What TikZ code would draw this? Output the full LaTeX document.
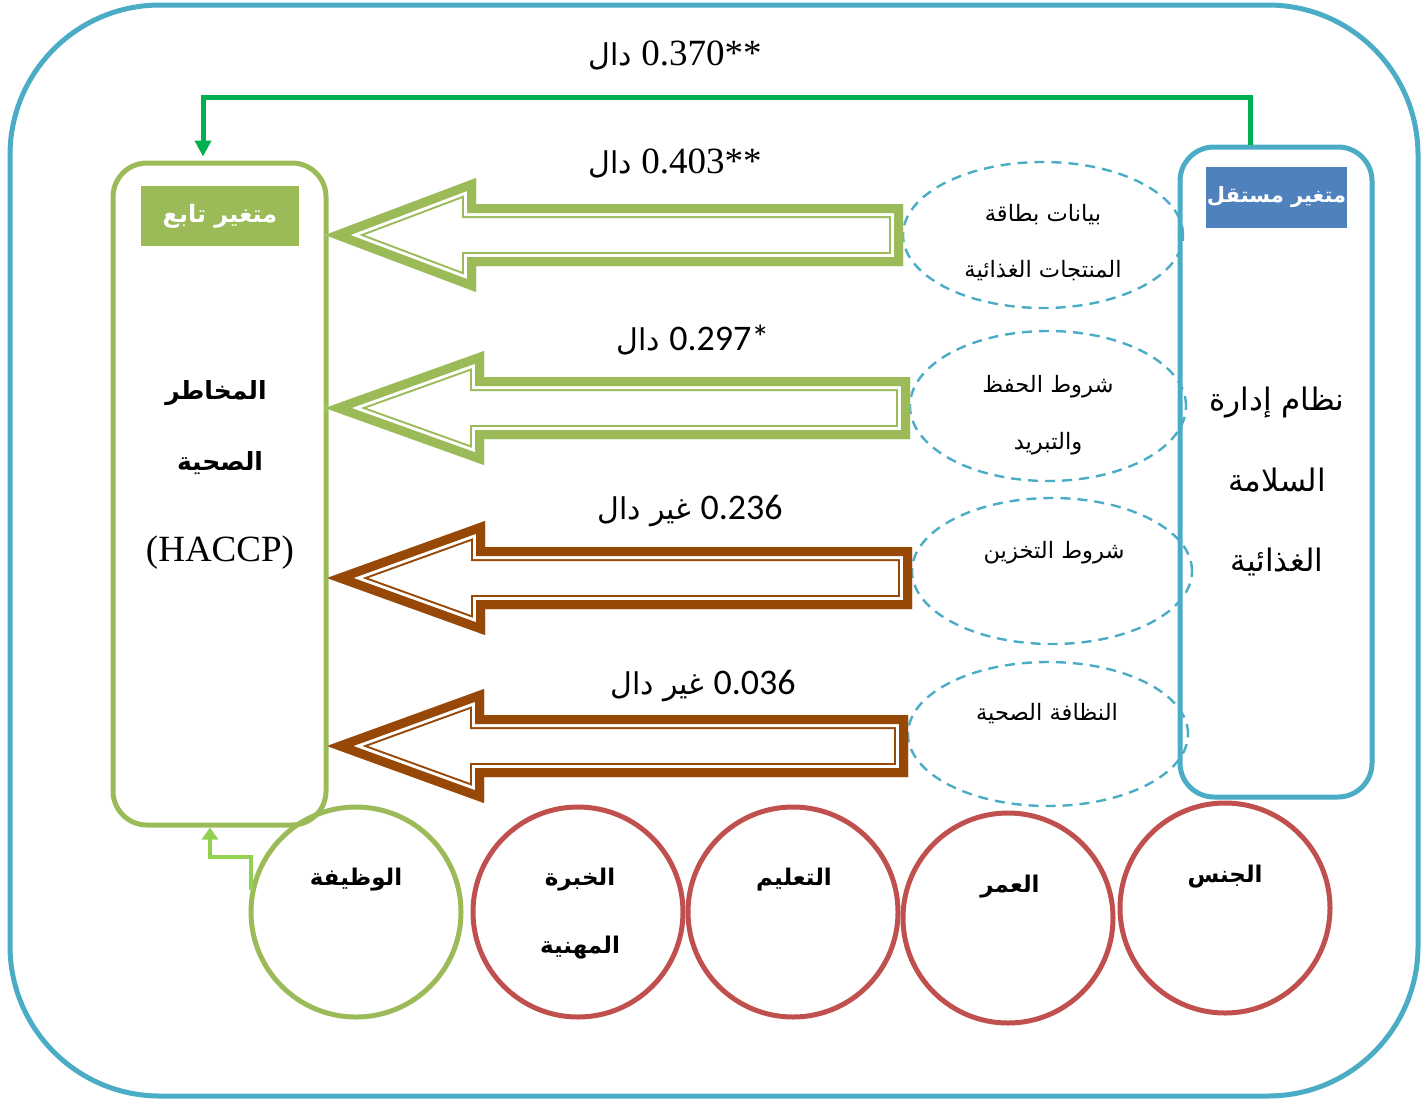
\documentclass[tikz,border=0pt]{standalone}
\usepackage{fontspec}
\setmainfont{Liberation Serif}
\newfontfamily\arfont[Script=Arabic]{DejaVu Sans}
\newfontfamily\calfont{Carlito}
\usetikzlibrary{shapes.geometric,arrows.meta}
\TeXXeTstate=1
\definecolor{cyanb}{HTML}{4BACC6}
\definecolor{greenb}{HTML}{9BBB59}
\definecolor{brownb}{HTML}{974706}
\definecolor{redb}{HTML}{C0504D}
\definecolor{blueb}{HTML}{4F81BD}
\definecolor{gline}{HTML}{00B050}
\definecolor{lgreen}{HTML}{92D050}
\newcommand\AR[1]{{\arfont\beginR #1\endR}}
\newcommand\ARB[1]{{\arfont\bfseries\beginR #1\endR}}
\newcommand\arrpath[4]{(#1,#2) -- (#3,#2-57) -- (#3,#2-31) -- (#4,#2-31) -- (#4,#2+31) -- (#3,#2+31) -- (#3,#2+57) -- cycle}
\newcommand\blkarrow[5]{%
  \begin{scope}
    \clip \arrpath{#2}{#3}{#4}{#5};
    \draw[#1, line width=14pt] \arrpath{#2}{#3}{#4}{#5};
    \draw[white, line width=12pt] \arrpath{#2}{#3}{#4}{#5};
    \draw[#1, line width=9pt] \arrpath{#2}{#3}{#4}{#5};
  \end{scope}}
\tikzset{
  bigbox/.style={draw, line width=2.5pt, rounded corners=17pt, rectangle},
  tagbox/.style={rectangle, inner sep=0pt, text=white, font=\fontsize{12}{14}\selectfont},
  ovalbox/.style={ellipse, draw=cyanb, dashed, dash pattern=on 5pt off 3.5pt, line width=1.2pt, minimum width=140pt, minimum height=73pt},
  circbox/.style={circle, draw=redb, line width=2.5pt, minimum size=105pt, inner sep=0pt},
  ovaltext/.style={font=\fontsize{11.3}{13}\selectfont, inner sep=0pt},
  circtext/.style={font=\fontsize{11.5}{14}\selectfont, inner sep=0pt},
  serlab/.style={font=\fontsize{18.5}{22}\selectfont, inner sep=0pt},
  sanlab/.style={font=\fontsize{18}{22}\selectfont, inner sep=0pt},
}
\begin{document}
\begin{tikzpicture}[x=0.5pt,y=-0.5pt]
\useasboundingbox (0,0) rectangle (1428,1099);
% outer frame
\draw[cyanb, line width=2.5pt, rounded corners=75pt] (10,5) rectangle (1418,1096);

% main boxes
\node[bigbox, draw=greenb, minimum width=106.5pt, minimum height=331pt] (dep) at (219.5,494) {};
\node[bigbox, draw=cyanb, minimum width=96pt, minimum height=325pt] (ind) at (1276,472) {};
\node[tagbox, fill=greenb, minimum width=79pt, minimum height=30pt] (deptag) at (220,216) {\ARB{متغير تابع}};
\node[tagbox, fill=blueb, minimum width=70.5pt, minimum height=30.5pt, font=\fontsize{10.5}{13}\selectfont] (indtag) at (1276.5,197.5) {\ARB{متغير مستقل}};

% left box text
\node[circtext, font=\fontsize{12.5}{16}\selectfont] (d1) at (216,393) {\ARB{المخاطر}};
\node[circtext, font=\fontsize{12.5}{16}\selectfont] (d2) at (220,463) {\ARB{الصحية}};
\node[serlab] (d3) at (220,553) {(HACCP)};

% right box text
\node[circtext, font=\fontsize{15.5}{18}\selectfont] (i1) at (1277,402) {\AR{نظام إدارة}};
\node[circtext, font=\fontsize{15.5}{18}\selectfont] (i2) at (1277,480) {\AR{السلامة}};
\node[circtext, font=\fontsize{15.5}{18}\selectfont] (i3) at (1277,562) {\AR{الغذائية}};

% ellipses
\node[ovalbox] (e1) at (1043,235) {};
\node[ovalbox, minimum width=138pt, minimum height=75pt] (e2) at (1048,406) {};
\node[ovalbox] (e3) at (1052,571) {};
\node[ovalbox, minimum height=72pt] (e4) at (1048,734) {};
\node[ovaltext] (e1a) at (1043,215) {\AR{بيانات بطاقة}};
\node[ovaltext] (e1b) at (1043,271) {\AR{المنتجات الغذائية}};
\node[ovaltext] (e2a) at (1048,387) {\AR{شروط الحفظ}};
\node[ovaltext] (e2b) at (1048,444) {\AR{والتبريد}};
\node[ovaltext] (e3a) at (1054,553) {\AR{شروط التخزين}};
\node[ovaltext] (e4a) at (1047,714) {\AR{النظافة الصحية}};

% block arrows
\blkarrow{greenb}{325}{235}{476}{903}
\blkarrow{greenb}{325}{408}{484}{910}
\blkarrow{brownb}{327}{578}{485}{912}
\blkarrow{brownb}{327}{746}{484}{908}

% labels
\node[serlab] (l1) at (675,55) {{\fontsize{15}{18}\selectfont\AR{دال}}\ 0.370**};
\node[serlab] (l2) at (675,163) {{\fontsize{15}{18}\selectfont\AR{دال}}\ 0.403**};
\node[sanlab] (l3) at (693,340) {{\fontsize{15}{18}\selectfont\AR{دال}}\ {\calfont 0.297*}};
\node[sanlab] (l4) at (690,511) {{\fontsize{15}{18}\selectfont\AR{غير دال}}\ {\calfont 0.236}};
\node[sanlab] (l5) at (703,686) {{\fontsize{15}{18}\selectfont\AR{غير دال}}\ {\calfont 0.036}};

% circles
\node[circbox, draw=greenb] (job) at (356,912) {};
\node[circbox] (exp) at (578,912) {};
\node[circbox] (edu) at (793,912) {};
\node[circbox] (age) at (1008,918) {};
\node[circbox] (sex) at (1225,908) {};
\node[circtext] (jobt) at (356,880) {\ARB{الوظيفة}};
\node[circtext] (expt1) at (580,880) {\ARB{الخبرة}};
\node[circtext] (expt2) at (580,948) {\ARB{المهنية}};
\node[circtext] (edut) at (794,880) {\ARB{التعليم}};
\node[circtext] (aget) at (1010,887) {\ARB{العمر}};
\node[circtext] (sext) at (1225,877) {\ARB{الجنس}};

% connectors
\coordinate (gx) at (1250,0);
\coordinate (gy) at (0,97);
\coordinate (gl) at (203,0);
\draw[gline, line width=2.5pt, -{Triangle[length=8pt,width=8pt]}, shorten >=2pt]
  (ind.north -| gx) -- (gx |- gy) -- (gl |- gy) -- (gl |- dep.north);
\coordinate (lgA) at (210,857);
\draw[lgreen, line width=2pt, -{Triangle[length=6pt,width=8pt]}]
  (job.168) |- (lgA) -- (lgA |- dep.south);
\end{tikzpicture}
\end{document}
